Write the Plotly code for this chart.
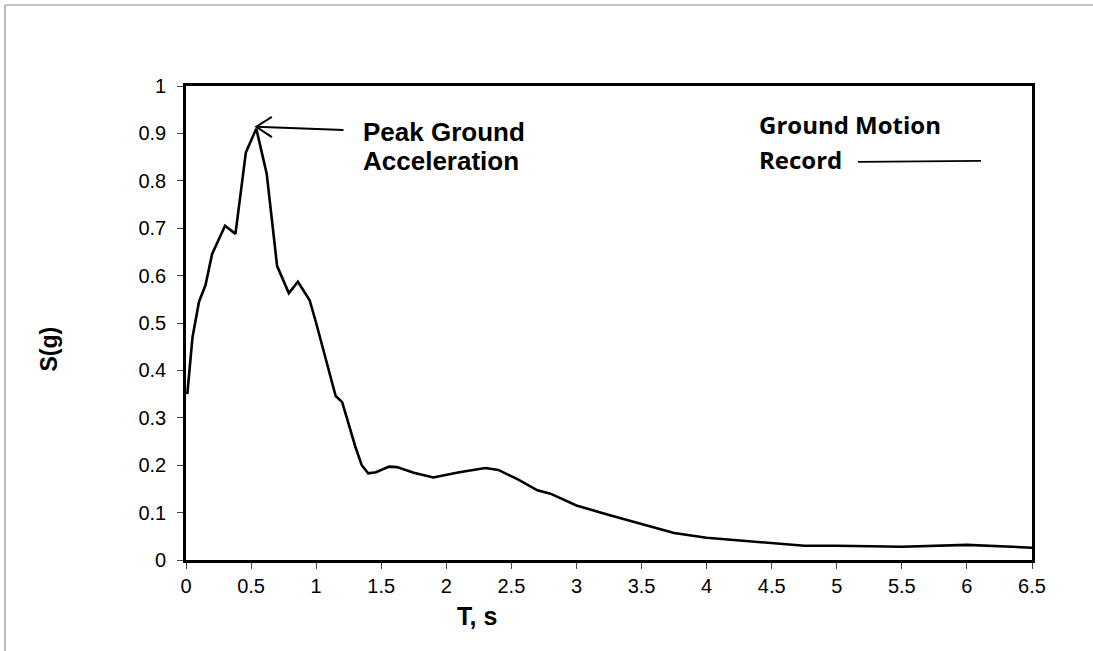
import plotly.graph_objects as go
import numpy as np

# ---- data ----
period_s = [0.01, 0.05, 0.1, 0.15, 0.2, 0.3, 0.38, 0.46, 0.54, 0.62, 0.7, 0.79, 0.86,
            0.95, 1.0, 1.1, 1.15, 1.2, 1.3, 1.35, 1.4, 1.46, 1.56, 1.62, 1.75, 1.9,
            2.1, 2.3, 2.4, 2.55, 2.7, 2.8, 2.9, 3.0, 3.25, 3.5, 3.75, 4.0, 4.5, 4.75,
            5.0, 5.5, 6.0, 6.5]
sa_g = [0.35, 0.47, 0.545, 0.58, 0.645, 0.705, 0.688, 0.86, 0.91, 0.815, 0.62, 0.563, 0.587,
        0.548, 0.5, 0.4, 0.346, 0.333, 0.24, 0.2, 0.183, 0.185, 0.197, 0.196, 0.184, 0.174,
        0.185, 0.194, 0.19, 0.17, 0.147, 0.14, 0.128, 0.115, 0.095, 0.076, 0.057, 0.047, 0.036, 0.03,
        0.03, 0.028, 0.032, 0.026]
x_ticks = [0, 0.5, 1, 1.5, 2, 2.5, 3, 3.5, 4, 4.5, 5, 5.5, 6, 6.5]
y_ticks = [0, 0.1, 0.2, 0.3, 0.4, 0.5, 0.6, 0.7, 0.8, 0.9, 1]

W, H = 1093, 651
ML, MR, MT, MB = 186, 61, 86, 91
PW, PH = W - ML - MR, H - MT - MB

def px(x):
    return (x - ML) / PW

def py(y):
    return (H - MB - y) / PH

fig = go.Figure()
fig.add_trace(go.Scatter(x=period_s, y=sa_g, mode="lines",
                         line=dict(color="black", width=2.6), showlegend=False,
                         hoverinfo="x+y"))

ipk = int(np.argmax(sa_g))
tx, ty = period_s[ipk], sa_g[ipk]

shapes = [
    # arrow to the peak
    dict(type="line", xref="x", yref="y", x0=tx, y0=ty + 0.004, x1=1.21, y1=0.907,
         line=dict(color="black", width=2)),
    dict(type="path", xref="x", yref="y",
         path=f"M 0.66,0.935 L {tx},{ty + 0.004} L 0.66,0.892",
         line=dict(color="black", width=2)),
    # leader line for Ground Motion Record
    dict(type="line", xref="x", yref="y", x0=5.163, y0=0.840, x1=6.108, y1=0.842,
         line=dict(color="black", width=1.6)),
    # outer chart border (left and top)
    dict(type="line", xref="paper", yref="paper", x0=px(5), y0=py(5), x1=px(W + 10), y1=py(5),
         line=dict(color="#8c8c8c", width=1.2)),
    dict(type="line", xref="paper", yref="paper", x0=px(5), y0=py(5), x1=px(5), y1=py(H + 10),
         line=dict(color="#8c8c8c", width=1.2)),
]

bold_arial = dict(family="Liberation Sans, Arial", size=26, color="black")
bold_cal = dict(family="Open Sans, Lato", size=24, color="black")

annotations = [
    dict(text="<b>Peak Ground</b>", x=px(361), y=py(131.7), xref="paper", yref="paper",
         xanchor="left", yanchor="middle", showarrow=False, font=bold_arial),
    dict(text="<b>Acceleration</b>", x=px(361), y=py(161.2), xref="paper", yref="paper",
         xanchor="left", yanchor="middle", showarrow=False, font=bold_arial),
    dict(text="<b>Ground Motion</b>", x=px(757), y=py(124.5), xref="paper", yref="paper",
         xanchor="left", yanchor="middle", showarrow=False, font=bold_cal),
    dict(text="<b>Record</b>", x=px(757), y=py(159.5), xref="paper", yref="paper",
         xanchor="left", yanchor="middle", showarrow=False, font=bold_cal),
    dict(text="<b>T, s</b>", x=px(455), y=py(616), xref="paper", yref="paper",
         xanchor="left", yanchor="middle", showarrow=False,
         font=dict(family="Liberation Sans, Arial", size=25, color="black")),
    dict(text="<b>S(g)</b>", x=px(48.5), y=py(349), xref="paper", yref="paper",
         xanchor="center", yanchor="middle", textangle=-90, showarrow=False,
         font=dict(family="Liberation Sans, Arial", size=23, color="black")),
]

axis_common = dict(showgrid=False, zeroline=False, showline=True, linecolor="black",
                   linewidth=2.6, mirror=True, ticks="outside", ticklen=6, tickwidth=1,
                   tickcolor="#444", tickfont=dict(family="Liberation Sans, Arial", size=20,
                                                   color="black"))

fig.update_layout(
    width=W, height=H,
    margin=dict(l=ML, r=MR, t=MT, b=MB, pad=0),
    paper_bgcolor="white", plot_bgcolor="white",
    xaxis=dict(range=[0, 6.5], tickvals=x_ticks,
               ticktext=[f"{v:g}" for v in x_ticks], ticklabelstandoff=0, **axis_common),
    yaxis=dict(range=[0, 1], tickvals=y_ticks,
               ticktext=[f"{v:g}" for v in y_ticks], ticklabelstandoff=7, **axis_common),
    shapes=shapes,
    annotations=annotations,
)

fig.write_html("out.html")
